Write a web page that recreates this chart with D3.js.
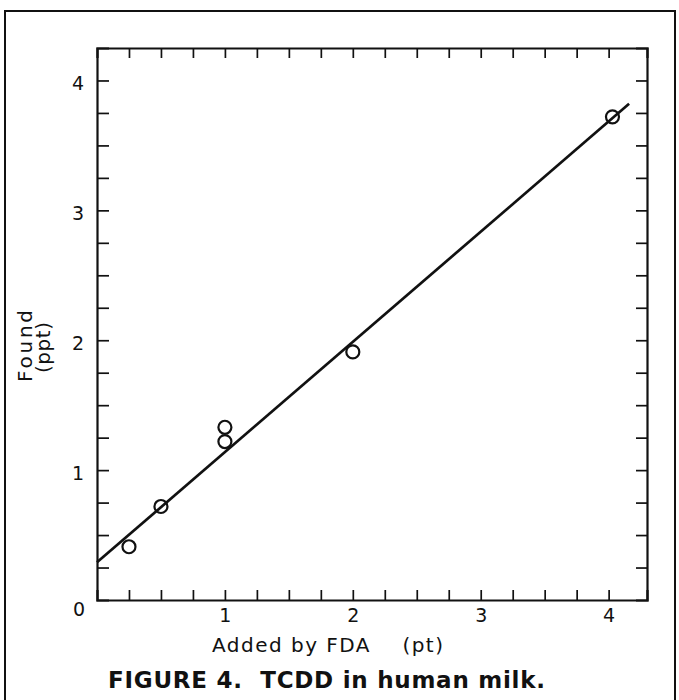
<!DOCTYPE html>
<html>
<head>
<meta charset="utf-8">
<script src="https://cdn.jsdelivr.net/npm/d3@7"></script>
<style>
  body { margin: 0; background: #fff; }
  text { font-family: "DejaVu Sans", "Liberation Sans", Arial, sans-serif; fill: #111; }
</style>
</head>
<body>
<script>
// values
var addedX = [0.25, 0.5, 1.0, 1.0, 2.0, 4.03];
var foundY = [0.41, 0.72, 1.33, 1.22, 1.91, 3.72];
var fitX = [0, 4.16];
var fitY = [0.29, 3.82];
var tickLabels = [1, 2, 3, 4];
var xTitle = "Added by FDA    (pt)";
var yTitle = ["Found", "(ppt)"];
var caption = "FIGURE 4.  TCDD in human milk.";

var W = 679, H = 700;
var mLeft = 97, mRight = 647, mTop = 48, mBottom = 600;

var svg = d3.select("body").append("svg")
  .attr("width", W).attr("height", H);

// outer frame of the figure
svg.append("rect")
  .attr("x", 5).attr("y", 11)
  .attr("width", 670).attr("height", 700)
  .attr("fill", "none").attr("stroke", "#111").attr("stroke-width", 2);

var xScale = d3.scaleLinear().domain([0, 4.3]).range([mLeft, mRight]);
var yScale = d3.scaleLinear().domain([0, 4.25]).range([mBottom, mTop]);

var quarterX = d3.range(1, 17).map(function(d) { return d / 4; });
var quarterY = d3.range(1, 17).map(function(d) { return d / 4; });

function fmt(d) { return tickLabels.indexOf(d) >= 0 ? d : ""; }

// bottom axis with labels, ticks pointing in
var xAxis = svg.append("g")
  .attr("transform", "translate(0," + mBottom + ")")
  .call(d3.axisBottom(xScale).tickValues(quarterX).tickSize(-10).tickPadding(9).tickFormat(fmt));

var xTop = svg.append("g")
  .attr("transform", "translate(0," + mTop + ")")
  .call(d3.axisTop(xScale).tickValues(quarterX).tickSize(-10).tickFormat(""));

var yAxis = svg.append("g")
  .attr("transform", "translate(" + mLeft + ",0)")
  .call(d3.axisLeft(yScale).tickValues(quarterY).tickSize(-12).tickPadding(13).tickFormat(fmt));

var yRight = svg.append("g")
  .attr("transform", "translate(" + mRight + ",0)")
  .call(d3.axisRight(yScale).tickValues(quarterY).tickSize(-11).tickFormat(""));

svg.selectAll(".domain").attr("stroke", "#111").attr("stroke-width", 2.2);
svg.selectAll(".tick line").attr("stroke", "#111").attr("stroke-width", 1.7);
svg.selectAll(".tick text").style("font-size", "19px").attr("fill", "#111");
yAxis.selectAll(".tick text").attr("dy", "0.5em");

// the "0" shared by both axes
svg.append("text")
  .attr("x", mLeft - 18).attr("y", mBottom + 16)
  .attr("text-anchor", "middle")
  .style("font-size", "19px")
  .text("0");

// fitted line
var line = d3.line()
  .x(function(d) { return xScale(d[0]); })
  .y(function(d) { return yScale(d[1]); });

svg.append("path")
  .datum(d3.zip(fitX, fitY))
  .attr("d", line)
  .attr("fill", "none").attr("stroke", "#111").attr("stroke-width", 2.7);

// data points
svg.selectAll("circle.pt")
  .data(d3.zip(addedX, foundY))
  .enter().append("circle")
  .attr("class", "pt")
  .attr("cx", function(d) { return xScale(d[0]); })
  .attr("cy", function(d) { return yScale(d[1]); })
  .attr("r", 6.5)
  .attr("fill", "none").attr("stroke", "#111").attr("stroke-width", 2.2);

// axis titles (the print face is wide, so spread to its measured length)
svg.append("text")
  .attr("x", 212).attr("y", 652)
  .attr("textLength", 231).attr("lengthAdjust", "spacing")
  .style("font-size", "20px")
  .attr("xml:space", "preserve")
  .text(xTitle);

svg.append("text")
  .attr("transform", "translate(32,382) rotate(-90)")
  .attr("textLength", 72).attr("lengthAdjust", "spacing")
  .style("font-size", "20px")
  .text(yTitle[0]);

svg.append("text")
  .attr("transform", "translate(50,373) rotate(-90)")
  .attr("textLength", 51).attr("lengthAdjust", "spacing")
  .style("font-size", "20px")
  .text(yTitle[1]);

// caption
svg.append("text")
  .attr("x", 108).attr("y", 688)
  .attr("textLength", 437).attr("lengthAdjust", "spacing")
  .style("font-size", "23px")
  .style("font-weight", "bold")
  .attr("xml:space", "preserve")
  .text(caption);
</script>
</body>
</html>
